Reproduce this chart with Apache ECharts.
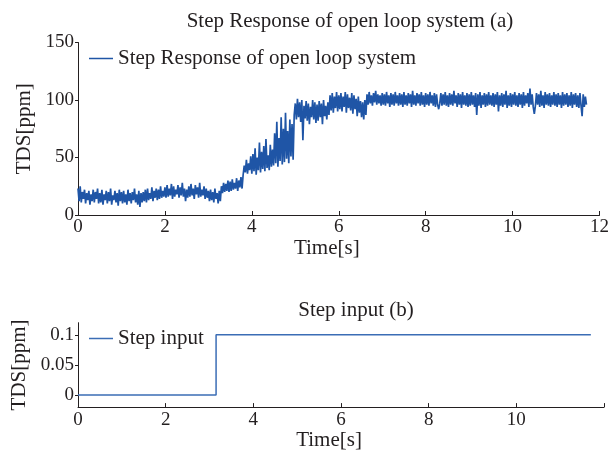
<!DOCTYPE html>
<html>
<head>
<meta charset="utf-8">
<script src="https://cdn.jsdelivr.net/npm/echarts@6/dist/echarts.min.js"></script>
<style>
  html, body { margin: 0; padding: 0; background: #fff; }
  #chart { width: 612px; height: 452px; }
</style>
</head>
<body>
<div id="chart"></div>
<script>
// Measured TDS of the open loop system, sampled every 0.025 s from t = 0
const responseStep = 0.025;
const responseValues = [
  // 0.0 - 0.5 s
  23,12,25,11,20,14,22,10,19,13,21,9,18,12,22,11,20,14,23,10,
  // 0.5 - 1.0 s
  19,11,22,9,18,13,21,10,20,12,23,9,17,13,21,11,19,8,22,12,
  // 1.0 - 1.5 s
  20,10,21,11,18,9,22,12,19,10,20,13,23,11,18,9,21,7,19,11,
  // 1.5 - 2.0 s
  20,12,22,11,23,13,19,14,24,12,21,15,23,13,22,14,25,15,21,16,
  // 2.0 - 2.5 s
  24,15,26,16,23,17,27,14,25,16,22,18,26,15,24,17,28,16,23,12,
  // 2.5 - 3.0 s
  22,15,25,16,27,17,23,14,26,18,24,15,28,16,22,17,25,14,23,15,
  // 3.0 - 3.5 s
  21,12,22,13,20,11,23,14,19,10,21,12,25,19,28,20,27,21,30,20,
  // 3.5 - 4.0 s
  29,21,31,22,28,23,32,21,30,24,33,23,35,43,37,48,36,45,39,51,
  // 4.0 - 4.5 s
  36,53,38,58,35,50,39,63,37,55,40,60,38,66,41,52,39,61,42,57,
  // 4.5 - 5.0 s
  43,71,45,81,42,67,47,85,44,75,46,89,49,73,45,83,51,79,48,87,
  // 5.0 - 5.5 s
  97,83,101,85,98,81,100,65,95,84,99,82,97,79,94,85,100,83,98,80,
  // 5.5 - 6.0 s
  96,82,99,85,97,79,100,86,95,83,98,87,104,91,106,89,103,93,107,90,
  // 6.0 - 6.5 s
  104,92,106,90,103,94,107,89,105,93,102,91,106,88,104,92,101,86,103,89,
  // 6.5 - 7.0 s
  99,85,98,83,100,87,105,96,107,97,104,95,106,98,108,96,105,97,104,95,
  // 7.0 - 7.5 s
  106,96,105,95,107,97,104,94,106,96,105,95,107,97,104,95,106,96,105,94,
  // 7.5 - 8.0 s
  107,96,104,95,106,97,105,94,108,96,104,95,106,97,105,95,107,96,104,94,
  // 8.0 - 8.5 s
  106,96,105,95,107,97,104,95,106,94,105,96,92,97,106,95,105,96,107,95,
  // 8.5 - 9.0 s
  104,94,106,96,105,95,108,97,104,94,106,96,105,93,107,96,104,95,106,94,
  // 9.0 - 9.5 s
  105,95,107,96,104,94,106,87,105,95,107,93,104,96,106,94,105,95,107,96,
  // 9.5 - 10.0 s
  104,95,106,94,105,96,107,90,104,95,106,94,105,96,108,93,104,95,106,94,
  // 10.0 - 10.5 s
  105,96,107,95,104,94,106,96,105,93,107,95,104,97,106,94,110,96,105,94,
  // 10.5 - 11.0 s
  88,95,106,96,105,94,108,95,104,93,107,96,105,95,106,94,104,96,107,95,
  // 11.0 - 11.5 s
  105,94,106,96,104,93,107,95,105,96,106,94,104,95,107,93,105,96,106,94,
  // 11.5 - 11.7 s
  104,93,106,95,86,105,94,103,96
];

// Step input applied at t = 3.15 s
const stepTimes  = [0, 3.15, 3.15, 11.7];
const stepValues = [0, 0, 0.1, 0.1];

// Axis ticks
const timeTicks = [0, 2, 4, 6, 8, 10, 12];
const responseTicks = [0, 50, 100, 150];
const stepTicks = [0, 0.05, 0.1];

const responseName = 'Step Response of open loop system';
const stepName = 'Step input';

const responseData = responseValues.map((v, i) => [+(i * responseStep).toFixed(3), v]);
const stepData = stepTimes.map((t, i) => [t, stepValues[i]]);

const FONT = '"Liberation Serif", "Times New Roman", serif';
const INK = '#231f20';

const tickText = { fontFamily: FONT, color: INK, fontSize: 19 };
const bigText = { fontFamily: FONT, color: INK, fontSize: 21, fontWeight: 'normal' };

function xAxisFor(gridIndex, hideLast) {
  return {
    type: 'value', gridIndex,
    min: timeTicks[0], max: timeTicks[timeTicks.length - 1], interval: 2,
    name: 'Time[s]', nameLocation: 'middle', nameGap: 18,
    nameTextStyle: Object.assign({}, bigText, { padding: [0, 24, 0, 0] }),
    axisLine: { onZero: false, lineStyle: { color: INK, width: 1 } },
    axisTick: { inside: true, length: 4, lineStyle: { color: INK } },
    axisLabel: Object.assign({}, tickText, {
      margin: 3,
      formatter: v => (hideLast && v === 12) ? '' : String(v)
    }),
    splitLine: { show: false }
  };
}

const chart = echarts.init(document.getElementById('chart'), null, { renderer: 'canvas' });

chart.setOption({
  backgroundColor: '#ffffff',
  animation: false,
  title: [
    { text: 'Step Response of open loop system (a)', left: 345, textAlign: 'center', top: 6,
      textStyle: bigText },
    { text: 'Step input (b)', left: 351, textAlign: 'center', top: 295,
      textStyle: bigText }
  ],
  legend: [
    { data: [responseName], left: 84, top: 43, icon: 'rect', itemWidth: 24, itemHeight: 1.5,
      itemGap: 5, textStyle: Object.assign({}, bigText, { padding: [0, 0, 0, 0] }) },
    { data: [stepName], left: 84, top: 323, icon: 'rect', itemWidth: 24, itemHeight: 1.5,
      itemGap: 5, textStyle: Object.assign({}, bigText, { padding: [0, 0, 0, 0] }) }
  ],
  grid: [
    { left: 78, right: 8, top: 42.5, height: 172.5 },
    { left: 78, right: 8, top: 322.7, height: 87.3 }
  ],
  xAxis: [xAxisFor(0, false), xAxisFor(1, true)],
  yAxis: [
    {
      type: 'value', gridIndex: 0,
      min: responseTicks[0], max: responseTicks[responseTicks.length - 1], interval: 50,
      name: 'TDS[ppm]', nameLocation: 'middle', nameGap: 43, nameTextStyle: bigText,
      axisLine: { show: true, lineStyle: { color: INK, width: 1 } },
      axisTick: { show: true, length: 3, lineStyle: { color: INK } },
      axisLabel: Object.assign({}, tickText, { margin: 4 }),
      splitLine: { show: false }
    },
    {
      type: 'value', gridIndex: 1, min: -0.02, max: 0.12,
      name: 'TDS[ppm]', nameLocation: 'middle', nameGap: 47, nameTextStyle: bigText,
      axisLine: { show: true, lineStyle: { color: INK, width: 1 } },
      axisTick: { show: true, length: 3, customValues: stepTicks, lineStyle: { color: INK } },
      axisLabel: Object.assign({}, tickText, { margin: 4, customValues: stepTicks,
        formatter: v => String(+v.toFixed(2)) }),
      splitLine: { show: false }
    }
  ],
  series: [
    {
      name: responseName, type: 'line', xAxisIndex: 0, yAxisIndex: 0,
      data: responseData, showSymbol: false, symbol: 'none',
      lineStyle: { color: '#1f55a6', width: 1.7 }, itemStyle: { color: '#1f55a6' }
    },
    {
      name: stepName, type: 'line', xAxisIndex: 1, yAxisIndex: 1,
      data: stepData, showSymbol: false, symbol: 'none',
      lineStyle: { color: '#3b6db5', width: 1.5 }, itemStyle: { color: '#3b6db5' }
    }
  ]
});
</script>
</body>
</html>
